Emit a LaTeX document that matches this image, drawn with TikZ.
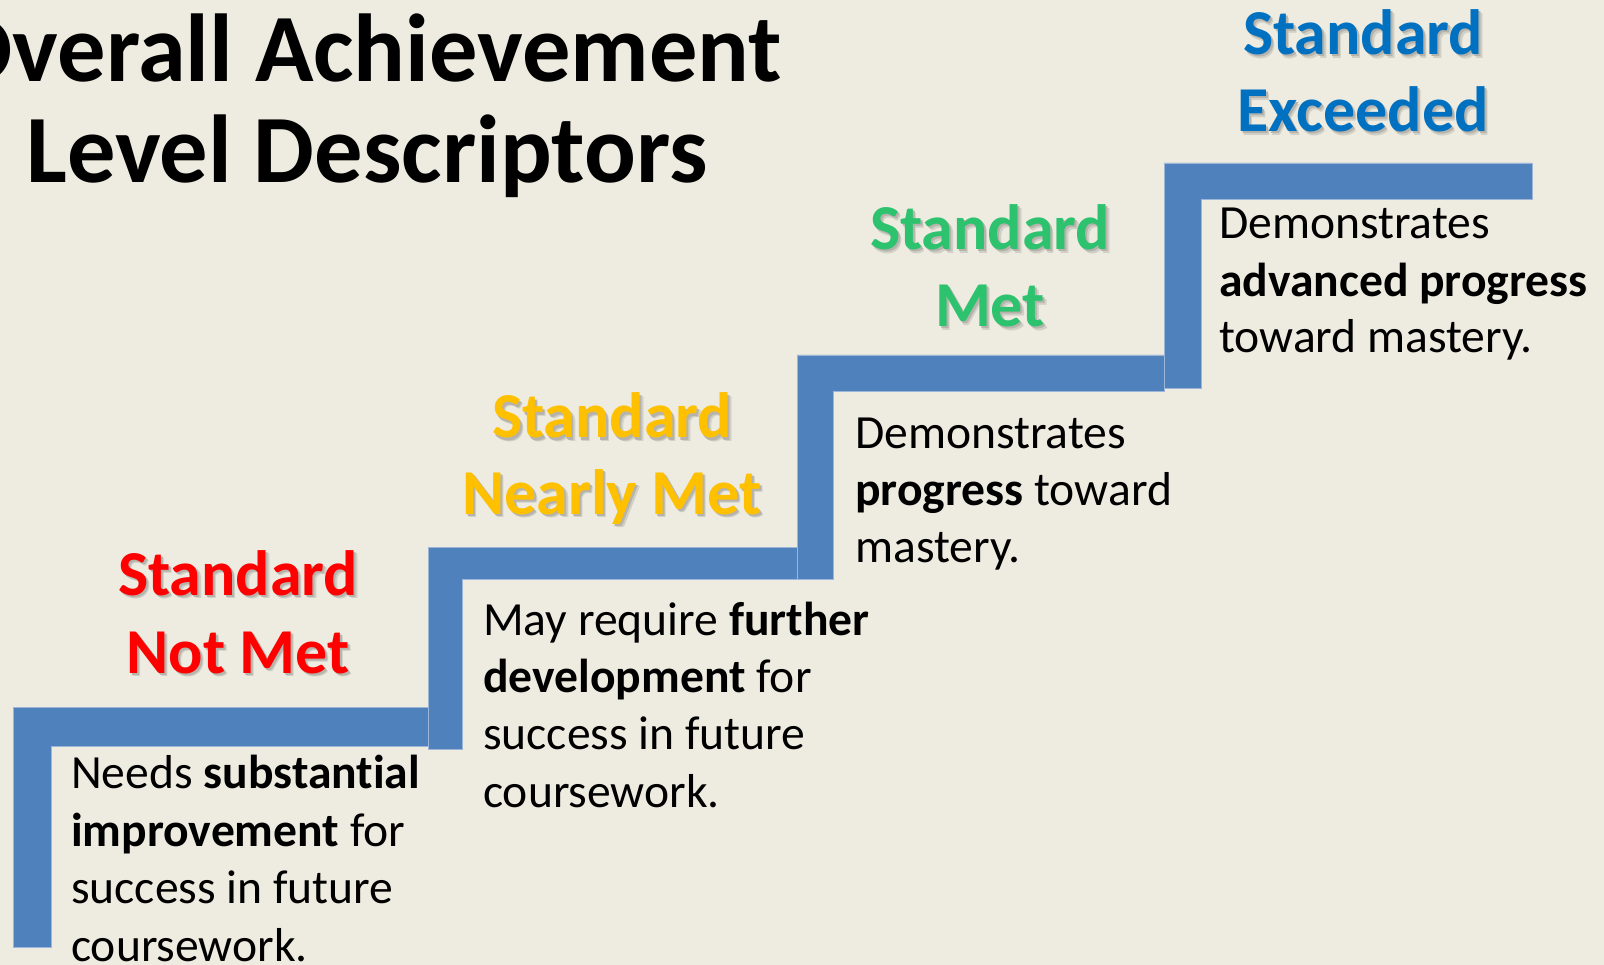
\documentclass[tikz,border=0pt]{standalone}
\usepackage{fontspec}
\setmainfont{Carlito}[Ligatures=NoCommon]
\definecolor{bg}{HTML}{EEECE1}
\definecolor{bar}{HTML}{4F81BD}
\definecolor{barline}{HTML}{9DB5D6}
\definecolor{cred}{HTML}{FF0000}
\definecolor{cyellow}{HTML}{FFC000}
\definecolor{cgreen}{RGB}{44,194,110}
\definecolor{cblue}{HTML}{0070C0}
\colorlet{shadowfar}{bg!88!black}
\colorlet{shadownear}{bg!76!black}
\tikzset{
  stepbar/.style={fill=bar, draw=barline, line width=0.6pt},
  desc/.style={anchor=base west, inner sep=0pt, text=black, font=\fontsize{47.6}{56}\selectfont},
  head/.style={anchor=base, inner sep=0pt, font=\fontsize{64}{77}\selectfont\bfseries},
  titletext/.style={anchor=base, inner sep=0pt, text=black, font=\fontsize{96.5}{102}\selectfont\bfseries}
}
\newcommand{\shadowed}[2]{%
  \makebox[0pt][l]{\hspace*{3.2pt}\raisebox{-3.2pt}{\textcolor{shadowfar}{#2}}}%
  \makebox[0pt][l]{\hspace*{2pt}\raisebox{-2pt}{\textcolor{shadownear}{#2}}}%
  \textcolor{#1}{#2}}
\begin{document}
\begin{tikzpicture}[x=1pt,y=-1pt]
\useasboundingbox (0,0) rectangle (1604,965);
\clip (0,0) rectangle (1604,965);
\fill[bg] (0,0) rectangle (1604,965);

% title
\node[titletext] (title1) at (365,82) {Overall Achievement};
\node[titletext] (title2) at (367,183) {Level Descriptors};

% steps
\draw[stepbar] (13,707) -- (429,707) -- (429,746) -- (51,746) -- (51,947) -- (13,947) -- cycle;
\draw[stepbar] (428,547) -- (797,547) -- (797,579) -- (462,579) -- (462,749) -- (428,749) -- cycle;
\draw[stepbar] (797,355) -- (1164,355) -- (1164,391) -- (833,391) -- (833,579) -- (797,579) -- cycle;
\draw[stepbar] (1164,163) -- (1532,163) -- (1532,199) -- (1201,199) -- (1201,388) -- (1164,388) -- cycle;

% headings
\node[head] (h1a) at (238,595) {\shadowed{cred}{Standard}};
\node[head] (h1b) at (238,673) {\shadowed{cred}{Not Met}};
\node[head] (h2a) at (612,438) {\shadowed{cyellow}{Standard}};
\node[head] (h2b) at (612,514) {\shadowed{cyellow}{Nearly Met}};
\node[head] (h3a) at (990,250) {\shadowed{cgreen}{Standard}};
\node[head] (h3b) at (990,327) {\shadowed{cgreen}{Met}};
\node[head] (h4a) at (1363,55) {\shadowed{cblue}{Standard}};
\node[head] (h4b) at (1363,132) {\shadowed{cblue}{Exceeded}};

% descriptions
\node[desc] (d1a) at (71,788) {Needs \textbf{substantial}};
\node[desc] (d1b) at (71,846) {\textbf{improvement} for};
\node[desc] (d1c) at (71,903) {success in future};
\node[desc] (d1d) at (71,961) {coursework.};

\node[desc] (d2a) at (483,635) {May require \textbf{further}};
\node[desc] (d2b) at (483,692) {\textbf{development} for};
\node[desc] (d2c) at (483,749) {success in future};
\node[desc] (d2d) at (483,807) {coursework.};

\node[desc] (d3a) at (855,448) {Demonstrates};
\node[desc] (d3b) at (855,505) {\textbf{progress} toward};
\node[desc] (d3c) at (855,562) {mastery.};

\node[desc] (d4a) at (1219,239) {Demonstrates};
\node[desc] (d4b) at (1219,297) {\textbf{advanced progress}};
\node[desc] (d4c) at (1219,353) {toward mastery.};
\end{tikzpicture}
\end{document}
